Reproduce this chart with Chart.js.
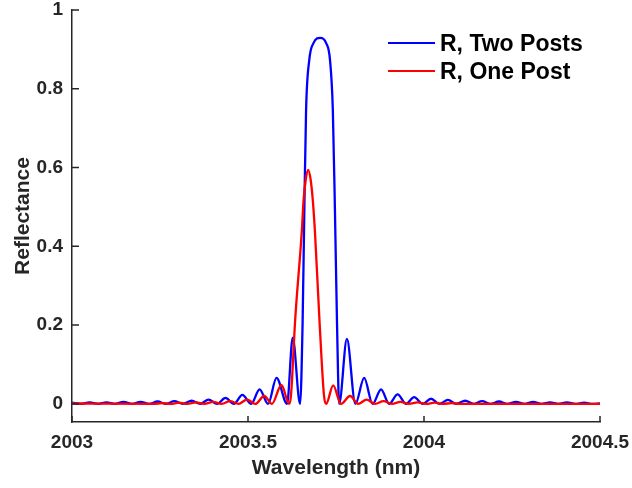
<!DOCTYPE html>
<html>
<head>
<meta charset="utf-8">
<script src="https://cdn.jsdelivr.net/npm/chart.js@4.4.1/dist/chart.umd.min.js"></script>
<style>
  body { margin: 0; background: #fff; }
  #wrap { position: relative; width: 632px; height: 488px; }
  #legend {
    position: absolute; left: 388px; top: 29px;
    font: bold 23px "Liberation Sans", Arial, sans-serif; color: #000;
  }
  #legend .row { display: flex; align-items: center; height: 28px; }
  #legend .swatch { width: 47px; height: 2px; margin-right: 5px; }
</style>
</head>
<body>
<div id="wrap">
  <canvas id="chart" width="632" height="488"></canvas>
  <div id="legend"></div>
</div>
<script>
  "use strict";

  // Wavelength (nm) and reflectance
  const twoPostWl = [
    2003.000, 2003.026, 2003.050, 2003.074, 2003.098, 2003.122, 2003.146, 2003.171,
    2003.195, 2003.219, 2003.243, 2003.267, 2003.291, 2003.315, 2003.340, 2003.364,
    2003.388, 2003.412, 2003.436, 2003.460, 2003.484, 2003.509, 2003.533, 2003.557,
    2003.581, 2003.611, 2003.627, 2003.648,
    2003.655, 2003.660, 2003.665, 2003.674, 2003.686, 2003.705, 2003.722, 2003.733,
    2003.741, 2003.747, 2003.753, 2003.759,
    2003.781, 2003.805, 2003.830, 2003.854, 2003.878, 2003.901, 2003.925, 2003.949,
    2003.972, 2003.996, 2004.020, 2004.044, 2004.068, 2004.092, 2004.117, 2004.141,
    2004.165, 2004.189, 2004.213, 2004.237, 2004.261, 2004.286, 2004.310, 2004.334,
    2004.358, 2004.382, 2004.406, 2004.430, 2004.455, 2004.479, 2004.500,
  ];
  const twoPostR = [
    0.003, 0, 0.004, 0, 0.004, 0, 0.005, 0,
    0.005, 0, 0.006, 0, 0.007, 0, 0.008, 0,
    0.011, 0, 0.015, 0, 0.023, 0, 0.037, 0,
    0.066, 0, 0.168, 0,
    0.2, 0.49, 0.746, 0.873, 0.916, 0.929, 0.916, 0.873,
    0.746, 0.49, 0.2, 0,
    0.165, 0, 0.066, 0, 0.037, 0, 0.024, 0,
    0.017, 0, 0.013, 0, 0.010, 0, 0.008, 0,
    0.007, 0, 0.006, 0, 0.005, 0, 0.005, 0,
    0.004, 0, 0.004, 0, 0.003, 0, 0.001,
  ];

  const onePostWl = [
    2003.000, 2003.232, 2003.256, 2003.280, 2003.304, 2003.328, 2003.352, 2003.376,
    2003.401, 2003.425, 2003.449, 2003.473, 2003.497, 2003.521, 2003.546, 2003.568,
    2003.595, 2003.617,
    2003.622, 2003.634, 2003.653, 2003.658, 2003.664, 2003.671, 2003.678, 2003.684,
    2003.690, 2003.703, 2003.716, 2003.722,
    2003.742, 2003.764, 2003.790, 2003.813, 2003.837, 2003.861, 2003.885, 2003.909,
    2003.933, 2003.957, 2003.982, 2004.006, 2004.030, 2004.054, 2004.078, 2004.102,
    2004.500,
  ];
  const onePostR = [
    0.001, 0, 0.002, 0, 0.003, 0, 0.004, 0,
    0.005, 0, 0.007, 0, 0.011, 0, 0.020, 0,
    0.048, 0,
    0.02, 0.213, 0.44, 0.518, 0.569, 0.594, 0.569, 0.518,
    0.44, 0.213, 0.02, 0,
    0.047, 0, 0.020, 0, 0.011, 0, 0.007, 0,
    0.005, 0, 0.004, 0, 0.003, 0, 0.002, 0,
    0,
  ];

  const xTicks = [2003, 2003.5, 2004, 2004.5];
  const yTicks = [0, 0.2, 0.4, 0.6, 0.8, 1];

  const axisColor = "#262626";
  const fontFamily = '"Liberation Sans", Arial, Helvetica, sans-serif';

  function toPoints(xs, ys) {
    return xs.map((x, i) => ({ x, y: ys[i] }));
  }

  // MATLAB-style tick marks pointing into the plot
  const inwardTicks = {
    id: "inwardTicks",
    afterDatasetsDraw(chart) {
      const { ctx, chartArea, scales } = chart;
      ctx.save();
      ctx.strokeStyle = axisColor;
      ctx.lineWidth = 1.5;
      ctx.beginPath();
      scales.x.ticks.forEach((t) => {
        const x = scales.x.getPixelForValue(t.value);
        ctx.moveTo(x, chartArea.bottom);
        ctx.lineTo(x, chartArea.bottom - 6);
      });
      scales.y.ticks.forEach((t) => {
        const y = scales.y.getPixelForValue(t.value);
        ctx.moveTo(chartArea.left, y);
        ctx.lineTo(chartArea.left + 7, y);
      });
      ctx.stroke();
      ctx.restore();
    },
  };

  const chart = new Chart(document.getElementById("chart"), {
    type: "line",
    data: {
      datasets: [
        {
          label: "R, Two Posts",
          data: toPoints(twoPostWl, twoPostR),
          borderColor: "#0000ff",
          borderWidth: 2.3,
          order: 1,
        },
        {
          label: "R, One Post",
          data: toPoints(onePostWl, onePostR),
          borderColor: "#ff0000",
          borderWidth: 2.3,
          order: 0,
        },
      ],
    },
    options: {
      responsive: false,
      animation: false,
      layout: { padding: { top: 10, right: 32, left: 0, bottom: 0 } },
      elements: {
        point: { radius: 0 },
        line: { cubicInterpolationMode: "monotone", fill: false },
      },
      plugins: {
        legend: { display: false },
        tooltip: { enabled: false },
      },
      scales: {
        x: {
          type: "linear",
          min: 2003,
          max: 2004.5,
          afterBuildTicks(scale) {
            scale.ticks = xTicks.map((v) => ({ value: v }));
          },
          afterFit(scale) {
            scale.height = 66;
            scale.paddingLeft = 0;
            scale.paddingRight = 0;
          },
          grid: { display: false, drawTicks: false, tickLength: 0 },
          border: { display: true, color: axisColor, width: 1.5 },
          ticks: {
            maxRotation: 0,
            padding: 9,
            color: axisColor,
            font: { family: fontFamily, size: 19, weight: "bold" },
            callback: (v) => String(v),
          },
          title: {
            display: true,
            text: "Wavelength (nm)",
            color: axisColor,
            padding: { top: 0, bottom: 7 },
            font: { family: fontFamily, size: 21, weight: "bold" },
          },
        },
        y: {
          min: -0.046,
          max: 1,
          afterBuildTicks(scale) {
            scale.ticks = yTicks.map((v) => ({ value: v }));
          },
          afterFit(scale) {
            scale.width = 72;
            scale.paddingTop = 0;
            scale.paddingBottom = 0;
          },
          grid: { display: false, drawTicks: false, tickLength: 0 },
          border: { display: true, color: axisColor, width: 1.5 },
          ticks: {
            padding: 9,
            color: axisColor,
            font: { family: fontFamily, size: 19, weight: "bold" },
            callback: (v) => String(v),
          },
          title: {
            display: true,
            text: "Reflectance",
            color: axisColor,
            padding: { top: 11, bottom: 0 },
            font: { family: fontFamily, size: 21, weight: "bold" },
          },
        },
      },
    },
    plugins: [inwardTicks],
  });

  // legend drawn inside the axes, top right, in dataset order
  const legend = document.getElementById("legend");
  chart.data.datasets.forEach((ds) => {
    const row = document.createElement("div");
    row.className = "row";
    const swatch = document.createElement("span");
    swatch.className = "swatch";
    swatch.style.background = ds.borderColor;
    const label = document.createElement("span");
    label.textContent = ds.label;
    row.appendChild(swatch);
    row.appendChild(label);
    legend.appendChild(row);
  });
</script>
</body>
</html>
